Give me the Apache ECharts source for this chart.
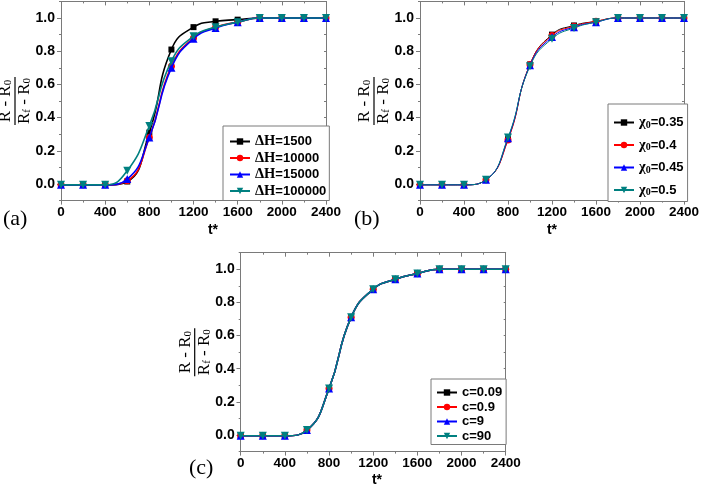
<!DOCTYPE html>
<html><head><meta charset="utf-8">
<script src="https://cdn.jsdelivr.net/npm/echarts@6/dist/echarts.min.js"></script>
<style>html,body{margin:0;padding:0;background:#fff}#c{width:702px;height:487px}</style>
</head><body><div id="c"></div>
<script>
// ---- data ----
const tValues = [0, 200, 400, 600, 800, 1000, 1200, 1400, 1600, 1800, 2000, 2200, 2400];
const xTickLabels = ['0', '400', '800', '1200', '1600', '2000', '2400'];
const yTickLabels = ['0.0', '0.2', '0.4', '0.6', '0.8', '1.0'];

const namesA = ['ΔH=1500', 'ΔH=10000', 'ΔH=15000', 'ΔH=100000'];
const a_dH1500   = [-0.005, -0.005, -0.005, 0.015, 0.31, 0.81, 0.945, 0.98, 0.99, 1.0, 1.0, 1.0, 1.0];
const a_dH10000  = [-0.005, -0.005, -0.005, 0.02, 0.28, 0.71, 0.88, 0.945, 0.975, 1.0, 1.0, 1.0, 1.0];
const a_dH15000  = [-0.005, -0.005, -0.005, 0.03, 0.28, 0.70, 0.875, 0.94, 0.975, 1.0, 1.0, 1.0, 1.0];
const a_dH100000 = [-0.005, -0.005, -0.005, 0.08, 0.35, 0.74, 0.89, 0.945, 0.975, 1.0, 1.0, 1.0, 1.0];

const namesB = ['χ0=0.35', 'χ0=0.4', 'χ0=0.45', 'χ0=0.5'];
const b_chi035 = [-0.005, -0.005, -0.005, 0.025, 0.27, 0.72, 0.90, 0.955, 0.98, 1.0, 1.0, 1.0, 1.0];
const b_chi04  = [-0.005, -0.005, -0.005, 0.025, 0.265, 0.72, 0.895, 0.95, 0.98, 1.0, 1.0, 1.0, 1.0];
const b_chi045 = [-0.005, -0.005, -0.005, 0.025, 0.275, 0.715, 0.885, 0.945, 0.975, 1.0, 1.0, 1.0, 1.0];
const b_chi05  = [-0.005, -0.005, -0.005, 0.025, 0.28, 0.71, 0.875, 0.94, 0.975, 1.0, 1.0, 1.0, 1.0];

const namesC = ['c=0.09', 'c=0.9', 'c=9', 'c=90'];
const c_009 = [-0.005, -0.005, -0.005, 0.03, 0.28, 0.71, 0.88, 0.94, 0.975, 1.0, 1.0, 1.0, 1.0];
const c_09  = [-0.005, -0.005, -0.005, 0.03, 0.28, 0.71, 0.88, 0.94, 0.975, 1.0, 1.0, 1.0, 1.0];
const c_9   = [-0.005, -0.005, -0.005, 0.03, 0.28, 0.71, 0.88, 0.94, 0.975, 1.0, 1.0, 1.0, 1.0];
const c_90  = [-0.005, -0.005, -0.005, 0.03, 0.28, 0.71, 0.88, 0.94, 0.975, 1.0, 1.0, 1.0, 1.0];

const panelLabels = ['(a)', '(b)', '(c)'];
const xTitle = 't*';

// ---- styling ----
const SANS = "'Liberation Sans', Arial, sans-serif";
const SERIF = "'Liberation Serif', 'Times New Roman', serif";
const FRAME = '#7a7a7a';
const COLORS = ['#000000', '#ff0000', '#0000ff', '#008080'];
const DOWN_TRI = 'path://M0,0 L10,0 L5,9 Z';
const SYMBOLS = ['rect', 'circle', 'triangle', DOWN_TRI];
const SIZES = [6, 7, 8, 8];

const grids = [
  {left: 61, top: 1.4, width: 265, height: 199.2},
  {left: 420, top: 1.4, width: 265, height: 199.2},
  {left: 240.7, top: 252.7, width: 265, height: 198.9}
];

const yMajorVals = yTickLabels.map(Number);
const xAxes = [], yAxes = [];
grids.forEach((g, gi) => {
  const common = {type: 'value', gridIndex: gi, min: 0, max: 2400, interval: 400,
    splitLine: {show: false}, minorSplitLine: {show: false},
    axisLine: {show: true, onZero: false, lineStyle: {color: FRAME, width: 1}}};
  xAxes.push(Object.assign({}, common, {position: 'bottom',
    axisTick: {show: true, inside: false, length: 4, lineStyle: {color: FRAME}},
    minorTick: {show: true, splitNumber: 2, length: 2, lineStyle: {color: FRAME}},
    axisLabel: {show: true, color: '#000', fontFamily: SANS, fontWeight: 'bold', fontSize: 13.5, margin: 5,
      formatter: v => xTickLabels[Math.round(v / 400)]}}));
  xAxes.push(Object.assign({}, common, {position: 'top',
    axisTick: {show: true, inside: true, length: 4, lineStyle: {color: FRAME}},
    minorTick: {show: true, splitNumber: 2, length: 2, lineStyle: {color: FRAME}},
    axisLabel: {show: false}}));
  const ycommon = {type: 'value', gridIndex: gi, min: -0.1, max: 1.1,
    splitLine: {show: false}, minorSplitLine: {show: false}};
  yAxes.push(Object.assign({}, ycommon, {position: 'left', interval: 0.1,
    axisLine: {show: true, onZero: false, lineStyle: {color: FRAME, width: 1}},
    axisTick: {show: true, inside: false, length: 2, lineStyle: {color: FRAME}},
    axisLabel: {show: true, color: '#000', fontFamily: SANS, fontWeight: 'bold', fontSize: 14, margin: 6,
      formatter: v => { const k = Math.round(v * 10); return (k >= 0 && k <= 10 && k % 2 === 0) ? yTickLabels[k / 2] : ''; }}}));
  yAxes.push(Object.assign({}, ycommon, {position: 'left',
    axisLine: {show: false},
    axisTick: {show: true, inside: false, length: 4, customValues: yMajorVals, lineStyle: {color: FRAME}},
    axisLabel: {show: false, customValues: yMajorVals}}));
  yAxes.push(Object.assign({}, ycommon, {position: 'right', interval: 0.1,
    axisLine: {show: true, onZero: false, lineStyle: {color: FRAME, width: 1}},
    axisTick: {show: true, inside: true, length: 2, lineStyle: {color: FRAME}},
    axisLabel: {show: false}}));
  yAxes.push(Object.assign({}, ycommon, {position: 'right',
    axisLine: {show: false},
    axisTick: {show: true, inside: true, length: 4, customValues: yMajorVals, lineStyle: {color: FRAME}},
    axisLabel: {show: false, customValues: yMajorVals}}));
});

function mkSeries(gi, names, arrays, lw) {
  return arrays.map((arr, i) => ({
    type: 'line', name: names[i], xAxisIndex: gi * 2, yAxisIndex: gi * 4,
    data: tValues.map((t, k) => [t, arr[k]]),
    smooth: 0.5,
    symbol: SYMBOLS[i], symbolSize: SIZES[i],
    itemStyle: {color: COLORS[i]},
    lineStyle: {color: COLORS[i], width: lw},
    z: 2 + i, animation: false
  }));
}
const series = [].concat(
  mkSeries(0, namesA, [a_dH1500, a_dH10000, a_dH15000, a_dH100000], 1.6),
  mkSeries(1, namesB, [b_chi035, b_chi04, b_chi045, b_chi05], 1),
  mkSeries(2, namesC, [c_009, c_09, c_9, c_90], 1.5)
);

const richLegend = {
  b: {fontFamily: SANS, fontWeight: 'bold', fontSize: 13, color: '#000', lineHeight: 15},
  s: {fontFamily: SERIF, fontSize: 14.5, color: '#000', lineHeight: 15},
  sub: {fontFamily: SERIF, fontSize: 10, color: '#000', verticalAlign: 'bottom', lineHeight: 6}
};
function legendFmt(name) {
  if (name.startsWith('ΔH')) return '{s|ΔH}{b|' + name.slice(2) + '}';
  if (name.startsWith('χ0')) return '{s|χ}{sub|0}{b|' + name.slice(2) + '}';
  return '{b|' + name + '}';
}
function mkLegend(names, left, top, gap, pad) {
  return {data: names, orient: 'vertical', left: left, top: top,
    itemWidth: 20, itemHeight: 8, itemGap: gap, padding: pad,
    borderColor: FRAME, borderWidth: 1, backgroundColor: '#fff', borderRadius: 0,
    selectedMode: false, formatter: legendFmt,
    textStyle: {rich: richLegend, fontFamily: SANS, fontWeight: 'bold', fontSize: 13}};
}
const legends = [
  mkLegend(namesA, 223, 126, 1.5, [8, 3, 2, 6]),
  mkLegend(namesB, 608, 104, 7.5, [11, 4, 4, 5]),
  mkLegend(namesC, 431, 379, 1.5, [7, 4, 2, 5])
];

const fracRich = {
  r: {fontFamily: SERIF, fontSize: 17, color: '#000'},
  sub: {fontFamily: SERIF, fontSize: 11, color: '#000', verticalAlign: 'bottom', lineHeight: 9}
};
function fraction(g) {
  return {type: 'group', x: g.left - 46, y: g.top + g.height / 2, rotation: Math.PI / 2,
    children: [
      {type: 'text', x: 0, y: -1, style: {text: '{r|R - R}{sub|0}', rich: fracRich, align: 'center', verticalAlign: 'bottom'}},
      {type: 'line', shape: {x1: -24, y1: 0, x2: 24, y2: 0}, style: {stroke: '#000', lineWidth: 1.2}},
      {type: 'text', x: 0, y: 1, style: {text: '{r|R}{sub|f}{r| - R}{sub|0}', rich: fracRich, align: 'center', verticalAlign: 'top'}}
    ]};
}
const xTitlePos = [[213, 230], [552, 230], [377, 480]];
const panelPos = [[3, 219], [354, 219], [189, 468]];
const graphic = [];
grids.forEach((g, gi) => {
  graphic.push(fraction(g));
  graphic.push({type: 'text', x: xTitlePos[gi][0], y: xTitlePos[gi][1],
    style: {text: xTitle, font: 'bold 14px ' + SANS, fill: '#000', align: 'center', verticalAlign: 'middle'}});
  graphic.push({type: 'text', x: panelPos[gi][0], y: panelPos[gi][1],
    style: {text: panelLabels[gi], font: '22px ' + SERIF, fill: '#000', align: 'left', verticalAlign: 'middle'}});
});

const chart = echarts.init(document.getElementById('c'), null, {renderer: 'canvas'});
chart.setOption({
  animation: false,
  backgroundColor: '#fff',
  grid: grids,
  xAxis: xAxes,
  yAxis: yAxes,
  legend: legends,
  series: series,
  graphic: graphic
});
</script>
</body></html>
